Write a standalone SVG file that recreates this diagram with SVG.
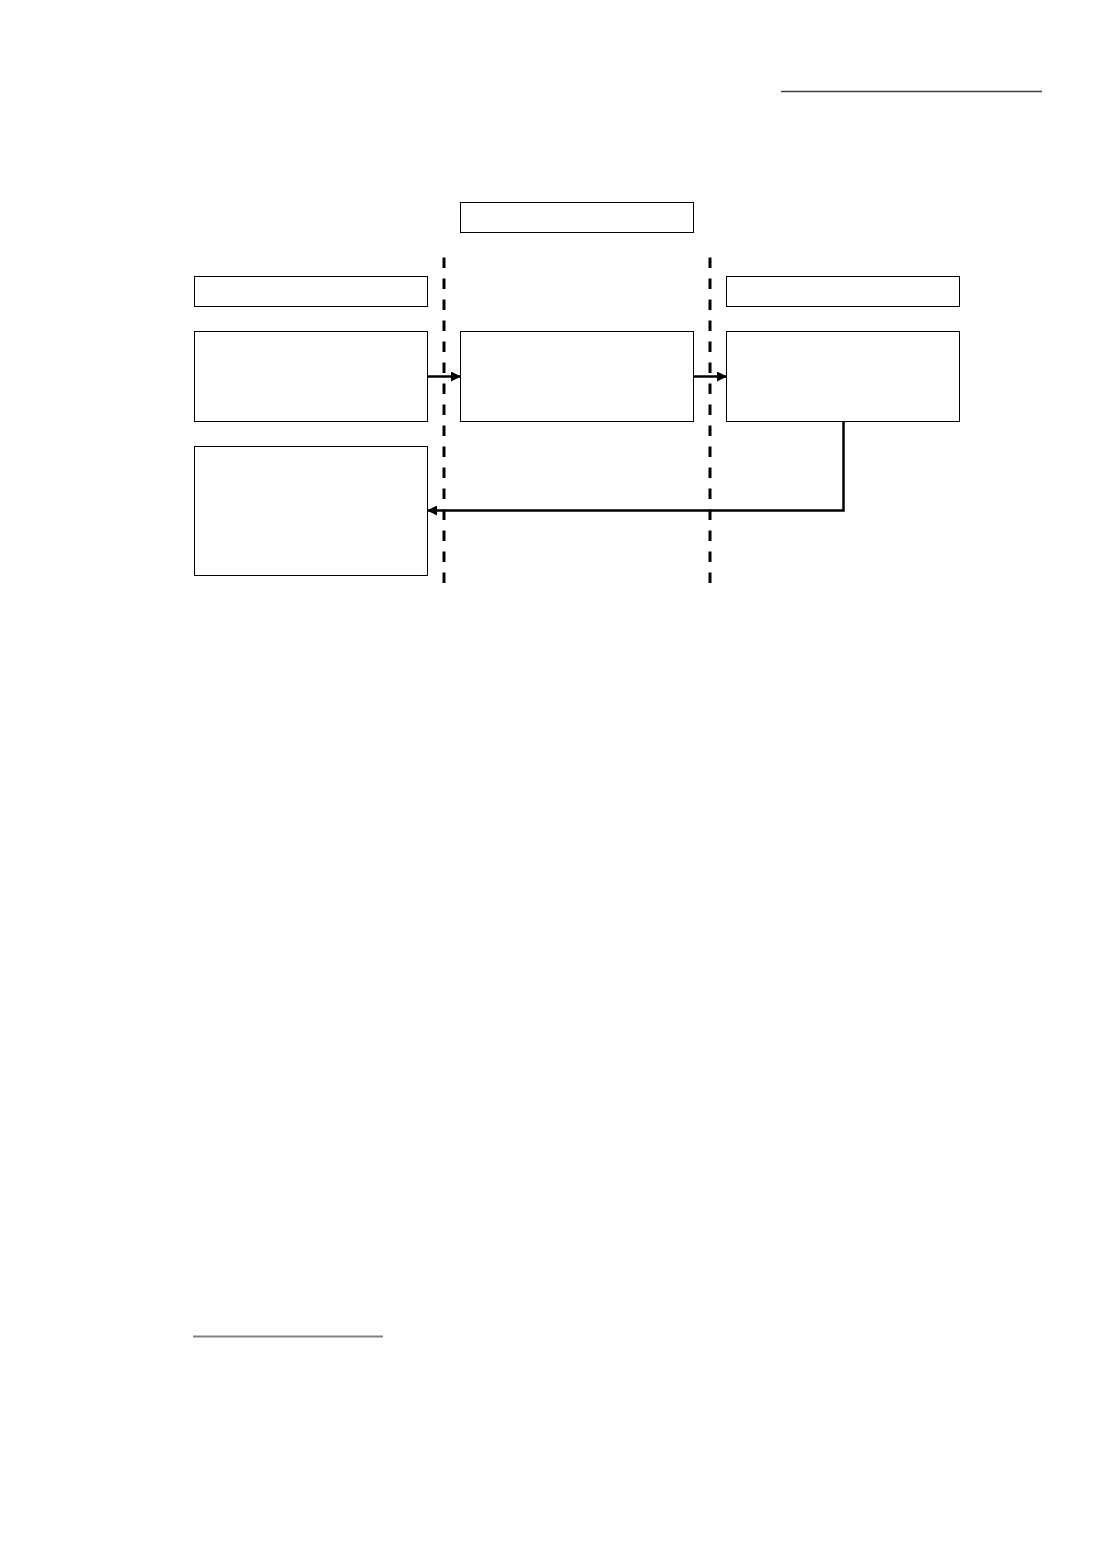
<svg xmlns="http://www.w3.org/2000/svg" width="1101" height="1562" viewBox="0 0 1101 1562">
  <defs>
    <style>
      .box { fill: #ffffff; stroke: #000000; stroke-width: 1; }
      .conn { fill: none; stroke: #000000; stroke-width: 2.5; }
      .lane { fill: none; stroke: #000000; stroke-width: 3; stroke-dasharray: 10.5 10.5; }
    </style>
    <marker id="arrow" viewBox="0 0 10 10" refX="9" refY="5" markerWidth="4" markerHeight="4" orient="auto" markerUnits="strokeWidth">
      <path d="M0,0 L10,5 L0,10 Z" fill="#000000"/>
    </marker>
  </defs>
  <rect width="1101" height="1562" fill="#ffffff"/>
  <line x1="781" y1="91.5" x2="1042" y2="91.5" stroke="#404040" stroke-width="1.3"/>
  <line x1="193" y1="1336.5" x2="383" y2="1336.5" stroke="#808080" stroke-width="2"/>
  <g id="lanes">
    <line class="lane" x1="444" y1="257.5" x2="444" y2="583"/>
    <line class="lane" x1="710" y1="257.5" x2="710" y2="583"/>
  </g>
  <g id="node-top"><rect class="box" x="460.5" y="202.5" width="233" height="30"/></g>
  <g id="node-left-header"><rect class="box" x="194.5" y="276.5" width="233" height="30"/></g>
  <g id="node-right-header"><rect class="box" x="726.5" y="276.5" width="233" height="30"/></g>
  <g id="node-left"><rect class="box" x="194.5" y="331.5" width="233" height="90"/></g>
  <g id="node-middle"><rect class="box" x="460.5" y="331.5" width="233" height="90"/></g>
  <g id="node-right"><rect class="box" x="726.5" y="331.5" width="233" height="90"/></g>
  <g id="node-bottom-left"><rect class="box" x="194.5" y="446.5" width="233" height="129"/></g>
  <g id="connectors">
    <line class="conn" x1="428" y1="376.5" x2="460" y2="376.5" marker-end="url(#arrow)"/>
    <line class="conn" x1="694" y1="376.5" x2="726" y2="376.5" marker-end="url(#arrow)"/>
    <polyline class="conn" points="843.5,422 843.5,510.5 428,510.5" marker-end="url(#arrow)"/>
  </g>
</svg>
